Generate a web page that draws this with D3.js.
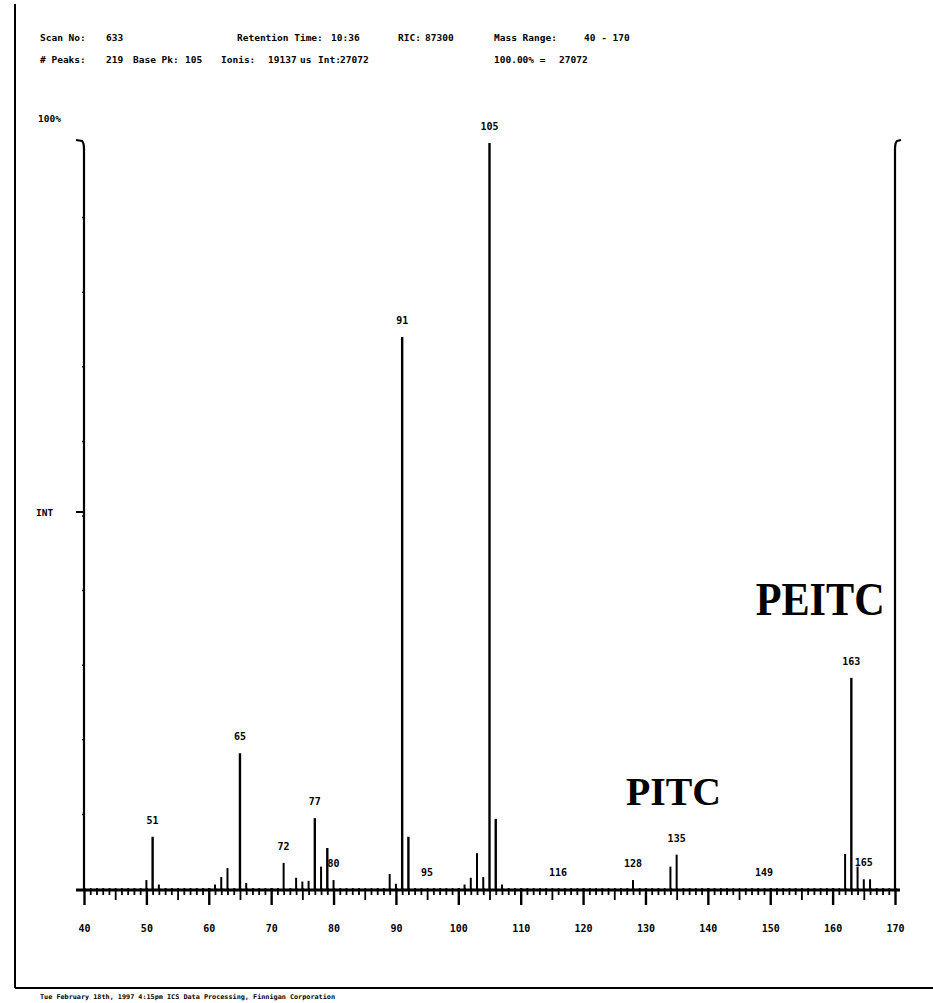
<!DOCTYPE html>
<html><head><meta charset="utf-8">
<script src="https://cdn.jsdelivr.net/npm/d3@7"></script>
<style>body{margin:0;background:#fff}svg{display:block}</style>
</head><body>
<script>
// ---- data ----
const mz =        [50, 51, 52, 61, 62, 63, 65, 66, 72, 74, 75, 76, 77, 78, 79, 80, 89, 90, 91, 92, 101, 102, 103, 104, 105, 106, 107, 128, 134, 135, 162, 163, 164, 165, 166];
const intensity = [1.2, 7, 0.6, 0.6, 1.6, 2.8, 18.2, 0.8, 3.5, 1.5, 1.0, 1.1, 9.5, 3.0, 5.5, 1.2, 2.0, 0.7, 74, 7.0, 0.6, 1.5, 4.8, 1.6, 100, 9.4, 0.6, 1.2, 3.0, 4.6, 4.7, 28.3, 3.0, 1.3, 1.3];
const peakLabels = ["105", "91", "65", "51", "77", "72", "80", "95", "116", "128", "135", "149", "163", "165"];
const xTickLabels = [40, 50, 60, 70, 80, 90, 100, 110, 120, 130, 140, 150, 160, 170];
const header1 = [["Scan No:", 40], ["633", 106], ["Retention Time:", 237], ["10:36", 331], ["RIC:", 398], ["87300", 425], ["Mass Range:", 494], ["40 - 170", 584]];
const header2 = [["# Peaks:", 40], ["219", 106], ["Base Pk:", 133], ["105", 185], ["Ionis:", 221], ["19137", 268], ["us", 300], ["Int:", 318], ["27072", 340], ["100.00% =", 494], ["27072", 559]];
const compounds = [["PITC", 134.5, 11.3], ["PEITC", 158, 36.7]];
const footer = "Tue February 18th, 1997  4:15pm   ICS Data Processing, Finnigan Corporation";

// ---- chart ----
const W = 933, H = 1003;
const svg = d3.select("body").append("svg").attr("width", W).attr("height", H);
const x = d3.scaleLinear().domain([40, 170]).range([84, 895]);
const y = d3.scaleLinear().domain([0, 100]).range([889, 143]);
const mono = "'DejaVu Sans Mono', monospace";

// frame
svg.append("line").attr("x1", 15).attr("x2", 15).attr("y1", 4).attr("y2", 988).attr("stroke", "#000").attr("stroke-width", 2);
svg.append("line").attr("x1", 15).attr("x2", 933).attr("y1", 988).attr("y2", 988).attr("stroke", "#000").attr("stroke-width", 2);

// header
const hdr = svg.append("g").attr("font-family", mono).attr("font-weight", "bold").attr("font-size", 9.5).attr("fill", "#000");
header1.forEach(([t, px]) => hdr.append("text").attr("x", px).attr("y", 41).text(t));
header2.forEach(([t, px]) => hdr.append("text").attr("x", px).attr("y", 63).text(t));

// vertical axes
const ax = svg.append("g").attr("stroke", "#000").attr("fill", "none");
ax.append("path").attr("stroke-width", 2.2)
  .attr("d", `M${x(40) - 8},${y(100) - 3} L${x(40) - 2},${y(100) - 2} Q${x(40)},${y(100)} ${x(40)},${y(100) + 6} L${x(40)},${y(0)}`);
ax.append("path").attr("stroke-width", 2.2)
  .attr("d", `M${x(170) + 6},${y(100) - 3} L${x(170) + 2},${y(100) - 2} Q${x(170)},${y(100)} ${x(170)},${y(100) + 6} L${x(170)},${y(0)}`);
// INT tick
ax.append("line").attr("x1", x(40) - 8).attr("x2", x(40)).attr("y1", y(50) - 4).attr("y2", y(50) - 4).attr("stroke-width", 2);
d3.range(10, 100, 10).forEach(v => ax.append("line").attr("x1", x(40) - 2).attr("x2", x(40)).attr("y1", y(v)).attr("y2", y(v)).attr("stroke-width", 1.5));

svg.append("text").attr("x", 38).attr("y", 122).attr("font-family", mono).attr("font-weight", "bold").attr("font-size", 9.5).text("100%");
svg.append("text").attr("x", 36).attr("y", 516).attr("font-family", mono).attr("font-weight", "bold").attr("font-size", 9.5).text("INT");

// x axis with ticks at each unit
const xAxis = d3.axisBottom(x).tickValues(d3.range(40, 171, 1)).tickSize(0).tickFormat("");
const gx = svg.append("g").attr("transform", `translate(0,${y(0)})`).call(xAxis);
gx.select(".domain").remove();
gx.selectAll(".tick line").remove();
gx.selectAll(".tick").append("line")
  .attr("y1", -1).attr("y2", d => d % 10 === 0 ? 16 : (d % 5 === 0 ? 11 : 6))
  .attr("stroke", "#000").attr("stroke-width", d => d % 10 === 0 ? 2.4 : 1.8);
svg.append("line").attr("x1", x(40) - 8).attr("x2", x(170) + 5).attr("y1", y(0) + 1).attr("y2", y(0) + 1).attr("stroke", "#000").attr("stroke-width", 3);

const xLab = d3.axisBottom(x).tickValues(xTickLabels).tickSize(0).tickPadding(0).tickFormat(d3.format("d"));
const gl = svg.append("g").attr("transform", `translate(0,${y(0) + 40})`).call(xLab);
gl.select(".domain").remove();
gl.selectAll("text").attr("font-family", mono).attr("font-weight", "bold").attr("font-size", 10).attr("fill", "#000").attr("dy", "0.3em");

// peaks
svg.append("g").selectAll("line").data(mz).join("line")
  .attr("x1", d => x(d)).attr("x2", d => x(d))
  .attr("y1", y(0)).attr("y2", (d, i) => y(intensity[i]))
  .attr("stroke", "#000").attr("stroke-width", (d, i) => intensity[i] > 5 ? 2.4 : 2);

// peak labels
svg.append("g").selectAll("text").data(peakLabels).join("text")
  .attr("x", d => x(+d))
  .attr("y", d => { const i = mz.indexOf(+d); return y(i >= 0 ? intensity[i] : 0) - 13; })
  .attr("text-anchor", "middle").attr("font-family", mono).attr("font-weight", "bold").attr("font-size", 10)
  .text(d => d);

// compound labels
svg.append("g").selectAll("text").data(compounds).join("text")
  .attr("x", d => x(d[1])).attr("y", d => y(d[2]))
  .attr("text-anchor", "middle").attr("font-family", "'Liberation Serif', serif").attr("font-weight", "bold")
  .attr("font-size", (d, i) => i === 0 ? 40 : 46)
  .attr("textLength", (d, i) => i === 0 ? 95 : 129)
  .attr("lengthAdjust", "spacingAndGlyphs")
  .text(d => d[0]);

// footer
svg.append("text").attr("x", 40).attr("y", 999).attr("font-family", mono).attr("font-weight", "bold").attr("font-size", 6.5)
  .attr("textLength", 295).attr("lengthAdjust", "spacingAndGlyphs").text(footer);
</script>
</body></html>
